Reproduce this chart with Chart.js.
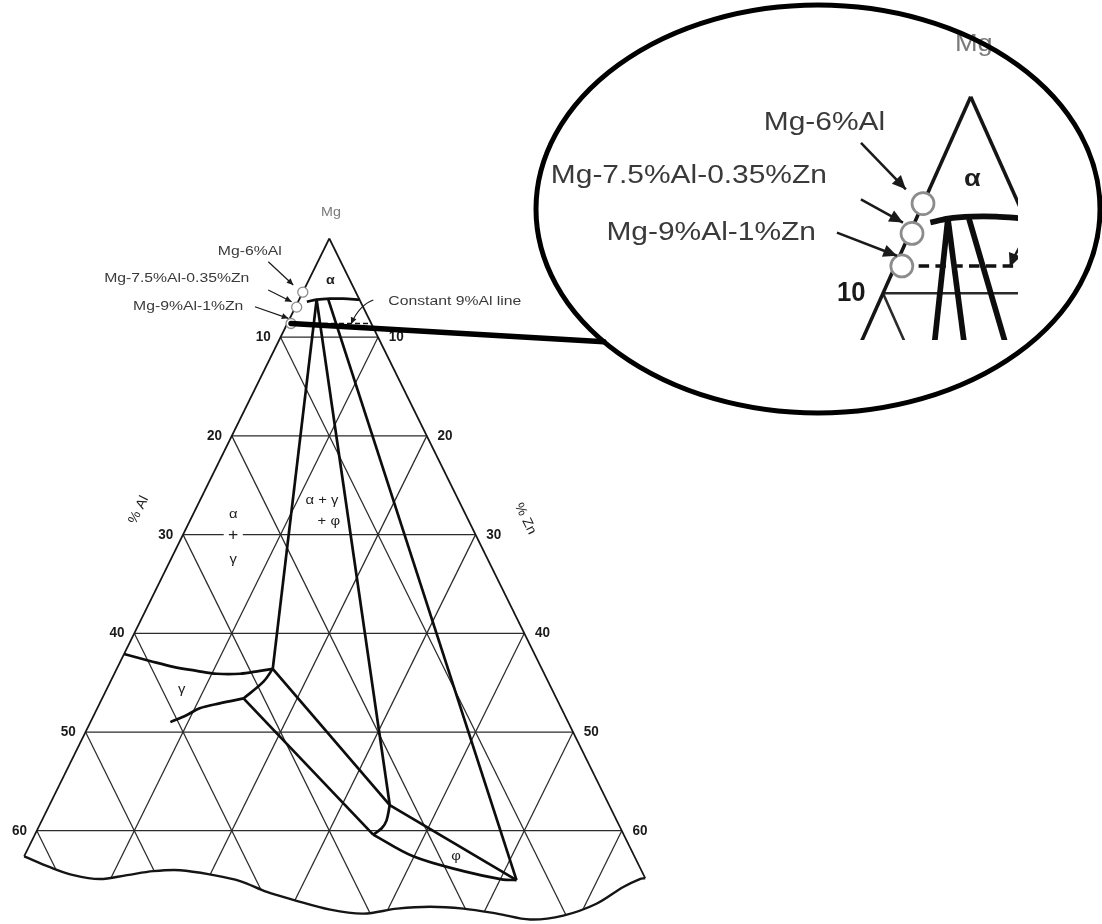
<!DOCTYPE html>
<html>
<head>
<meta charset="utf-8">
<script src="https://cdn.jsdelivr.net/npm/chart.js@4.4.1/dist/chart.umd.min.js"></script>
<style>
  html, body { margin: 0; padding: 0; background: #fff; }
  canvas { display: block; }
</style>
</head>
<body>
<canvas id="c" width="1102" height="924"></canvas>
<script>
// Mg corner of the Mg–Al–Zn ternary section. All compositions are at.% as [Al, Zn].
const gridLevels = [10, 20, 30, 40, 50, 60];
const tickLabels = ['10', '20', '30', '40', '50', '60'];

// phase boundaries
const alphaSolvus        = [[5.5, 0.9], [4.4, 1.8], [3.0, 3.1], [1.6, 4.5], [0, 6.2]];
const alphaGammaEdge     = [[4.4, 1.8], [27.6, 16.0]];
const alphaPhiEdge       = [[4.4, 1.8], [22.5, 34.9]];
const alphaPhiRight      = [[3.2, 3.0], [13.3, 51.7]];
const gammaUpper         = [[42.1, 0], [39.8, 3.0], [37.7, 5.7], [35.5, 8.3], [33.6, 10.5], [31.2, 12.9], [29.0, 14.8], [27.6, 16.0]];
const gammaLower         = [[40.8, 8.2], [38.8, 9.5], [37.1, 10.5], [34.8, 12.3], [32.1, 14.5]];
const gammaCorner        = [[32.1, 14.5], [29.2, 15.7], [27.6, 16.0]];
const gammaPhiUpper      = [[27.6, 16.0], [22.5, 34.9]];
const gammaPhiLower      = [[32.1, 14.5], [25.7, 34.7]];
const phiLeft            = [[22.5, 34.9], [23.6, 35.35], [24.5, 35.25], [25.7, 34.7]];
const phiUpper           = [[22.5, 34.9], [13.3, 51.7]];
const phiLower           = [[25.7, 34.7], [22.7, 39.9], [18.3, 45.8], [14.65, 50.3], [13.3, 51.7]];

// torn lower edge of the section
const sectionCut = [[62.6, 0], [60.5, 3.2], [58.5, 6.0], [56.0, 8.9], [53.0, 11.5], [50.1, 14.0], [47.3, 16.7],
  [44.1, 20.4], [41.7, 23.4], [39.5, 26.7], [37.2, 29.8], [33.9, 34.1], [30.7, 37.7], [27.0, 40.9],
  [23.5, 44.2], [20.2, 47.7], [17.0, 51.4], [13.9, 55.1], [10.3, 58.3], [6.3, 61.1], [2.7, 63.0],
  [0.6, 64.3], [0, 64.8]];

// alloys, nominal wt.%
const alloyNames = ['Mg-6%Al', 'Mg-7.5%Al-0.35%Zn', 'Mg-9%Al-1%Zn'];
const alloyAlWt  = [6, 7.5, 9];
const alloyZnWt  = [0, 0.35, 1];

// phase field names
const phaseNames = ['α', 'α + γ', '+ φ', 'α', '+', 'γ', 'γ', 'φ'];

// ---------------------------------------------------------------------------
const ATOMIC_MASS = { Mg: 24.305, Al: 26.982, Zn: 65.38 };
function wtToAt(al, zn) {
  const nMg = (100 - al - zn) / ATOMIC_MASS.Mg, nAl = al / ATOMIC_MASS.Al, nZn = zn / ATOMIC_MASS.Zn;
  const n = nMg + nAl + nZn;
  return [100 * nAl / n, 100 * nZn / n];
}
const alloyAt = alloyAlWt.map((a, i) => wtToAt(a, alloyZnWt[i]));

// two views of the same diagram: the full section and the magnified Mg corner
const FRAMES = {
  main:  { ax: 329.3, ay: 238.5, hw: 4.875, dy: 9.87,  text: 1,   ink: 1,   dot: 5,  box: null },
  inset: { ax: 970.7, ay: 96.7,  hw: 8.77,  dy: 19.66, text: 1.9, ink: 2.1, dot: 11, box: { right: 1018, bottom: 340 } }
};
const LENS = { cx: 818, cy: 209, rx: 282, ry: 204, width: 5, aim: { x: 600, y: 341.5 }, link: 5.5 };

function toPlot(f, al, zn) {
  return { x: f.ax + (zn - al) * f.hw, y: f.ay + (al + zn) * f.dy };
}

// annotation anchors, in the same [Al, Zn] frame (negative values lie outside the triangle)
const phaseLabelAt = [[2.0, 2.2], [14.0, 12.5], [14.4, 14.3], [23.8, 4.1], [24.9, 5.2], [26.1, 6.4], [38.0, 7.7], [18.3, 44.3]];
const calloutText = [
  { s: alloyNames[0], at: [5.55, -4.21], align: 'right' },
  { s: alloyNames[1], at: [10.2, -6.2], align: 'right' },
  { s: alloyNames[2], at: [12.28, -5.37], align: 'right' },
  { s: 'Constant 9%Al line', at: [-2.85, 9.25], align: 'left' }
];
const calloutArrows = [
  { from: [7.43, -5.08], to: [6.05, -1.34] },
  { from: [8.87, -3.65], to: [7.06, -0.66] },
  { from: [11.08, -4.17], to: [8.25, -0.16] },
  { from: [-1.4, 7.63], via: [0.3, 6.45], to: [2.1, 6.56] }
];

const STYLE = {
  grid:  { color: '#2b2b2b', width: 1.25 },
  edge:  { color: '#151515', width: 1.7 },
  cut:   { color: '#151515', width: 2.4 },
  phase: { color: '#0d0d0d', width: 2.7 },
  dash:  { color: '#111', width: 1.6, dash: [5, 3] }
};
const FONT = '"Liberation Sans", Arial, Helvetica, sans-serif';

// ---------------------------------------------------------------------------
const datasets = [];
function addLine(frameKey, pts, style, opts = {}) {
  const f = FRAMES[frameKey];
  datasets.push({
    data: pts.map(p => toPlot(f, p[0], p[1])),
    showLine: true,
    borderColor: style.color,
    borderWidth: style.width * f.ink,
    borderDash: style.dash ? style.dash.map(v => v * f.ink) : [],
    borderCapStyle: 'butt',
    borderJoinStyle: 'round',
    tension: opts.tension || 0,
    pointRadius: 0,
    pointHoverRadius: 0,
    fill: false,
    clip: false,
    order: opts.order || 3,
    frame: frameKey,
    clipMode: opts.clip || 'lens'
  });
}

Object.keys(FRAMES).forEach(key => {
  const f = FRAMES[key];
  gridLevels.forEach(k => {
    addLine(key, [[k, 0], [0, k]], STYLE.grid, { order: 6, clip: 'region' });
    addLine(key, [[k, 0], [k, 80]], STYLE.grid, { order: 6, clip: 'region' });
    addLine(key, [[0, k], [80, k]], STYLE.grid, { order: 6, clip: 'region' });
  });
  addLine(key, [[0, 0], sectionCut[0]], STYLE.edge, { order: 5 });
  addLine(key, [[0, 0], sectionCut[sectionCut.length - 1]], STYLE.edge, { order: 5 });
  addLine(key, sectionCut, STYLE.cut, { order: 5, tension: 0.35 });

  addLine(key, alphaSolvus, STYLE.phase, { order: 4, tension: 0.3 });
  [alphaGammaEdge, alphaPhiEdge, alphaPhiRight, gammaPhiUpper, gammaPhiLower, phiUpper]
    .forEach(p => addLine(key, p, STYLE.phase, { order: 4 }));
  [gammaUpper, gammaLower, gammaCorner, phiLeft, phiLower]
    .forEach(p => addLine(key, p, STYLE.phase, { order: 4, tension: 0.35 }));

  // constant-Al reference line through the 9%Al alloy
  const a3 = alloyAt[2];
  addLine(key, [a3, [0, a3[0] + a3[1]]], STYLE.dash, { order: 3 });

  datasets.push({
    data: alloyAt.map(p => toPlot(f, p[0], p[1])),
    showLine: false,
    pointRadius: f.dot,
    pointHoverRadius: f.dot,
    pointBackgroundColor: '#ffffff',
    pointBorderColor: '#8c8c8c',
    pointBorderWidth: 1.3 * f.ink,
    clip: false,
    order: 1,
    frame: key,
    clipMode: 'lens'
  });
});

// ---------------------------------------------------------------------------
function px(chart, p) {
  return { x: chart.scales.x.getPixelForValue(p.x), y: chart.scales.y.getPixelForValue(p.y) };
}
function lensPath(chart, ctx) {
  const c = px(chart, { x: LENS.cx, y: LENS.cy });
  const r = px(chart, { x: LENS.cx + LENS.rx, y: LENS.cy + LENS.ry });
  ctx.ellipse(c.x, c.y, Math.abs(r.x - c.x), Math.abs(r.y - c.y), 0, 0, Math.PI * 2);
}
// mode: 'box' = window only, 'lens' = window inside the magnifier, 'region' = also inside the section outline
function applyClip(chart, frameKey, mode) {
  const ctx = chart.ctx, f = FRAMES[frameKey];
  if (f.box) {
    if (mode !== 'box') { ctx.beginPath(); lensPath(chart, ctx); ctx.clip(); }
    const br = px(chart, { x: f.box.right, y: f.box.bottom });
    ctx.beginPath(); ctx.rect(0, 0, br.x, br.y); ctx.clip();
  }
  if (mode === 'region') {
    ctx.beginPath();
    [[0, 0]].concat(sectionCut).forEach((p, i) => {
      const q = px(chart, toPlot(f, p[0], p[1]));
      i ? ctx.lineTo(q.x, q.y) : ctx.moveTo(q.x, q.y);
    });
    ctx.closePath();
    ctx.clip();
  }
}

function drawText(ctx, s, p, o) {
  ctx.save();
  ctx.translate(p.x, p.y);
  if (o.rot) ctx.rotate(o.rot);
  ctx.scale(o.sx || 1, 1);
  ctx.font = `${o.weight || 'normal'} ${o.size}px ${FONT}`;
  ctx.textAlign = o.align || 'center';
  ctx.textBaseline = 'middle';
  if (o.knockout) {
    const w = ctx.measureText(s).width + o.knockout * 2;
    ctx.fillStyle = '#fff';
    ctx.fillRect(-w / 2, -o.size * 0.3, w, o.size * 0.6);
  }
  ctx.fillStyle = o.color;
  ctx.fillText(s, 0, 0);
  ctx.restore();
}
function arrowHead(ctx, tip, from, len, half) {
  const a = Math.atan2(tip.y - from.y, tip.x - from.x);
  ctx.beginPath();
  ctx.moveTo(tip.x, tip.y);
  ctx.lineTo(tip.x - len * Math.cos(a) + half * Math.sin(a), tip.y - len * Math.sin(a) - half * Math.cos(a));
  ctx.lineTo(tip.x - len * Math.cos(a) - half * Math.sin(a), tip.y - len * Math.sin(a) + half * Math.cos(a));
  ctx.closePath();
  ctx.fill();
}
function rayToLens(p0, p1) {
  const dx = p1.x - p0.x, dy = p1.y - p0.y;
  const ox = (p0.x - LENS.cx) / LENS.rx, oy = (p0.y - LENS.cy) / LENS.ry;
  const ux = dx / LENS.rx, uy = dy / LENS.ry;
  const a = ux * ux + uy * uy, b = 2 * (ox * ux + oy * uy), c = ox * ox + oy * oy - 1;
  const disc = b * b - 4 * a * c;
  if (disc < 0) return p1;
  const t = (-b - Math.sqrt(disc)) / (2 * a);
  return { x: p0.x + t * dx, y: p0.y + t * dy };
}

const framePlugin = {
  id: 'ternaryFrame',
  beforeDraw(chart) {
    const ctx = chart.ctx;
    ctx.save(); ctx.fillStyle = '#fff'; ctx.fillRect(0, 0, chart.width, chart.height); ctx.restore();
  },
  beforeDatasetDraw(chart, args) {
    const ds = chart.data.datasets[args.index];
    chart.ctx.save();
    applyClip(chart, ds.frame, ds.clipMode);
  },
  afterDatasetDraw(chart) {
    chart.ctx.restore();
  },
  afterDatasetsDraw(chart) {
    const ctx = chart.ctx;
    Object.keys(FRAMES).forEach(key => {
      const f = FRAMES[key], k = f.text, ink = f.ink;
      const at = p => px(chart, toPlot(f, p[0], p[1]));
      ctx.save();
      applyClip(chart, key, 'box');

      // callout arrows
      ctx.strokeStyle = '#1a1a1a'; ctx.fillStyle = '#1a1a1a';
      ctx.lineWidth = 1.2 * ink;
      calloutArrows.forEach(ar => {
        const a = at(ar.from), b = at(ar.to);
        ctx.beginPath(); ctx.moveTo(a.x, a.y);
        let back = a;
        if (ar.via) { const v = at(ar.via); ctx.quadraticCurveTo(v.x, v.y, b.x, b.y); back = v; }
        else ctx.lineTo(b.x, b.y);
        ctx.stroke();
        arrowHead(ctx, b, back, 6.5 * ink, 3 * ink);
      });

      // composition axes
      gridLevels.forEach((lv, i) => {
        drawText(ctx, tickLabels[i], at([lv + 1, -1]), { size: 15 * k, weight: 'bold', sx: 0.9, color: '#1a1a1a', align: 'right' });
        drawText(ctx, tickLabels[i], at([-1.1, lv + 1.1]), { size: 15 * k, weight: 'bold', sx: 0.9, color: '#1a1a1a', align: 'left' });
      });
      const slope = Math.atan2(f.dy, f.hw);
      drawText(ctx, '% Al', at([33.3, -5.8]), { size: 13.5 * k, sx: 1.05, color: '#222', rot: -slope });
      drawText(ctx, '% Zn', at([-5.9, 34.3]), { size: 13.5 * k, sx: 1.05, color: '#222', rot: slope });
      drawText(ctx, 'Mg', at([-1.52, -1.17]), { size: 13 * k, sx: 1.1, color: '#7a7a7a' });

      // phase fields
      phaseNames.forEach((s, i) => {
        const corner = i === 0, plus = s === '+';
        drawText(ctx, s, at(phaseLabelAt[i]), {
          size: (corner ? 13 : plus ? 16 : 13.5) * k,
          weight: corner ? 'bold' : 'normal',
          sx: 1.1, color: '#1e1e1e',
          knockout: plus ? 4 : 0
        });
      });

      // alloy call-outs
      calloutText.forEach(t => drawText(ctx, t.s, at(t.at), { size: 13.7 * k, sx: 1.15, color: '#3a3a3a', align: t.align }));
      ctx.restore();
    });

    // link from the 9%Al alloy to the magnifier, then the magnifier rim
    const start = toPlot(FRAMES.main, alloyAt[2][0], alloyAt[2][1]);
    const end = rayToLens(start, LENS.aim);
    const s = px(chart, start), e = px(chart, end);
    ctx.save();
    ctx.strokeStyle = '#000';
    ctx.lineCap = 'round';
    ctx.lineWidth = LENS.link;
    ctx.beginPath(); ctx.moveTo(s.x, s.y); ctx.lineTo(e.x, e.y); ctx.stroke();
    ctx.lineWidth = LENS.width;
    ctx.beginPath(); lensPath(chart, ctx); ctx.stroke();
    ctx.restore();
  }
};

new Chart(document.getElementById('c'), {
  type: 'scatter',
  data: { datasets },
  options: {
    responsive: false,
    animation: false,
    devicePixelRatio: 1,
    layout: { padding: 0, autoPadding: false },
    events: [],
    plugins: { legend: { display: false }, tooltip: { enabled: false } },
    scales: {
      x: { type: 'linear', min: 0, max: 1102, display: false },
      y: { type: 'linear', min: 0, max: 924, reverse: true, display: false }
    }
  },
  plugins: [framePlugin]
});
</script>
</body>
</html>
